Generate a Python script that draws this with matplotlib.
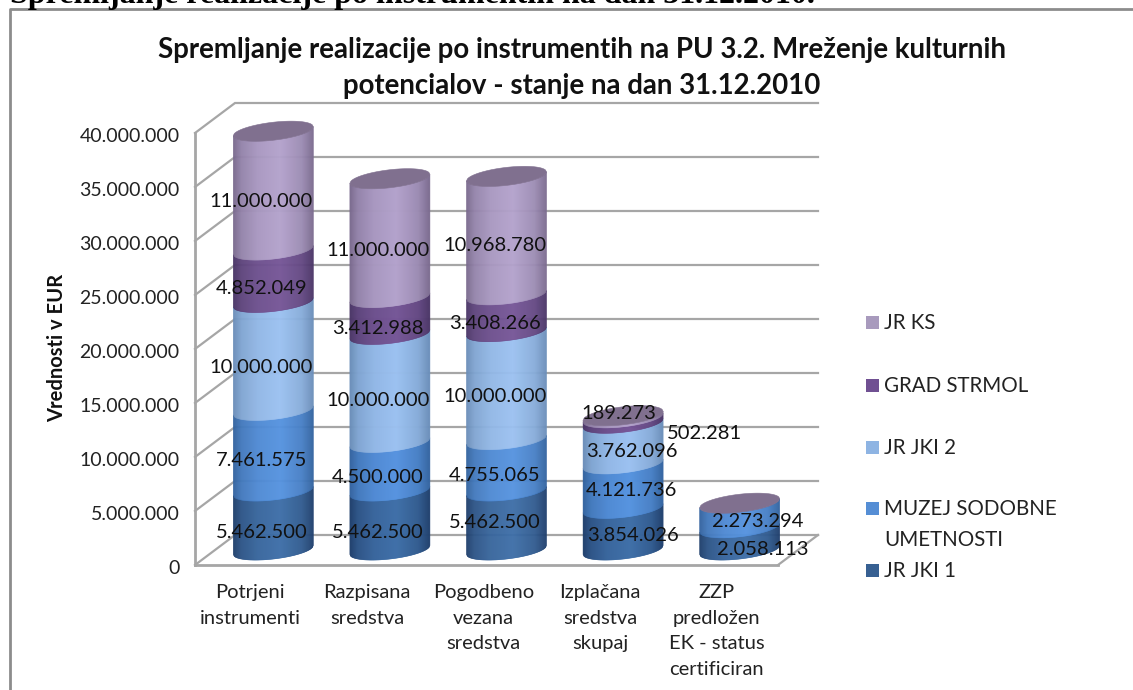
import matplotlib
matplotlib.use('Agg')
import matplotlib.pyplot as plt
import numpy as np
from matplotlib.collections import PolyCollection
from matplotlib.colors import to_rgb
from matplotlib.patches import Rectangle
from matplotlib.transforms import ScaledTranslation

# --- Data ---
categories = ['Potrjeni\ninstrumenti', 'Razpisana\nsredstva', 'Pogodbeno\nvezana\nsredstva',
              'Izplačana\nsredstva\nskupaj', 'ZZP\npredložen\nEK - status\ncertificiran']
jr_jki_1 = [5462500, 5462500, 5462500, 3854026, 2058113]
muzej = [7461575, 4500000, 4755065, 4121736, 2273294]
jr_jki_2 = [10000000, 10000000, 10000000, 3762096, 0]
grad_strmol = [4852049, 3412988, 3408266, 502281, 0]
jr_ks = [11000000, 11000000, 10968780, 189273, 0]
series = [jr_jki_1, muzej, jr_jki_2, grad_strmol, jr_ks]
series_names = ['JR JKI 1', 'MUZEJ SODOBNE\nUMETNOSTI', 'JR JKI 2', 'GRAD STRMOL', 'JR KS']
y_ticks = [0, 5000000, 10000000, 15000000, 20000000, 25000000, 30000000, 35000000, 40000000]

# (center colour, edge colour, legend colour) per series
colors = [('#3d6ea8', '#1f3f6c', '#376092'),
          ('#5593e0', '#33639f', '#558ed5'),
          ('#9bc1f1', '#6a8db8', '#8eb4e3'),
          ('#755597', '#4a3566', '#705092'),
          ('#b3a2cc', '#7a6a8e', '#a89abd')]
cap_color = '#80708f'
wall_color = '#a6a6a6'

# Manual label shifts in pixels, per series then category (Excel labels were dragged around)
label_shift = [[(8, 3), (8, 3), (8.5, 13), (30, 8.5), (43, 4.5)],
               [(8, 5.5), (8, 4.2), (8.5, 4.5), (28, 10.5), (38, 9)],
               [(8, 3.5), (8, 3), (8.5, 4.5), (29, 7.5), (0, 0)],
               [(8, 2.5), (8, 2.5), (8.5, 4.5), (101, 2), (0, 0)],
               [(8, 4), (8, 2.5), (8.5, 5), (16, 18.5), (0, 0)]]

W, H = 1133, 690
plt.rcParams['font.family'] = ['Lato', 'DejaVu Sans']
fig = plt.figure(figsize=(W / 100, H / 100), dpi=100)
ax = fig.add_axes([195 / W, (H - 565) / H, 583 / W, 432 / H])
ax.set_xlim(0, 5)
ax.set_ylim(0, 40000000)

# pseudo 3D geometry, pixels converted to data units
px_x = 5 / 583
px_y = 40000000 / 432
depth_x = 40 * px_x
depth_y = 30 * px_y

# walls and floor
for v in y_ticks:
    ax.plot([0, depth_x, 5 + depth_x], [v, v + depth_y, v + depth_y], color=wall_color,
            lw=1.6, clip_on=False, zorder=1, solid_joinstyle='miter')
ax.plot([5, 5 + depth_x], [0, depth_y], color=wall_color, lw=1.6, clip_on=False, zorder=1)
ax.plot([0, 5], [0, 0], color=wall_color, lw=2, clip_on=False, zorder=1)
ax.plot([0, 0], [0, 40000000], color=wall_color, lw=2, clip_on=False, zorder=1)

# cylinders
half_w = 40 * px_x
tt = np.linspace(0, 1, 81)
uu = 2 * tt - 1
shade = np.interp(tt, [0, 0.1, 0.3, 0.58, 0.85, 1], [0, 0.45, 0.8, 1, 0.6, 0])


def ellipse_edge(v, side):
    # side=-1 lower half, side=1 upper half of the tilted ellipse at stack height v
    return v + depth_y / 2 + (side * 9 * np.sqrt(1 - uu ** 2) + 4.5 * uu) * px_y


for i in range(len(categories)):
    cx = i + 0.5 + depth_x / 2
    xs = cx - half_w + 2 * half_w * tt
    base = 0
    for s, vals in enumerate(series):
        v = vals[i]
        if v == 0:
            continue
        low = ellipse_edge(base, -1)
        high = ellipse_edge(base + v, -1)
        quads = []
        cols = []
        for k in range(len(tt) - 1):
            quads.append([(xs[k], low[k]), (xs[k + 1], low[k + 1]), (xs[k + 1], high[k + 1]), (xs[k], high[k])])
            c0 = np.array(to_rgb(colors[s][1]))
            c1 = np.array(to_rgb(colors[s][0]))
            cols.append(c0 + (c1 - c0) * shade[k])
        pc = PolyCollection(quads, facecolors=cols, edgecolors=cols, linewidths=0.4, zorder=3 + i, clip_on=False)
        ax.add_collection(pc)
        base += v
    # the cap
    ax.fill(np.r_[xs, xs[::-1]], np.r_[ellipse_edge(base, -1), ellipse_edge(base, 1)[::-1]],
            color=cap_color, lw=0.4, zorder=3 + i, clip_on=False)

# data labels
for i in range(len(categories)):
    base = 0
    for s, vals in enumerate(series):
        v = vals[i]
        if v == 0:
            continue
        ax.annotate(f'{v:,}'.replace(',', '.'), xy=(i + 0.5, base + v / 2),
                    xytext=label_shift[s][i], textcoords='offset pixels', ha='center', va='center',
                    fontsize=14.5, color='#111111', zorder=20, annotation_clip=False)
        base += v

# axes
for sp in ax.spines.values():
    sp.set_visible(False)
ax.patch.set_visible(False)
ax.set_yticks(y_ticks)
ax.set_yticklabels([f'{v:,}'.replace(',', '.') for v in y_ticks], fontsize=14, color='#222222')
ax.tick_params(axis='y', length=0, pad=11)
for lab in ax.get_yticklabels():
    lab.set_transform(lab.get_transform() + ScaledTranslation(0, -2.5 / 100, fig.dpi_scale_trans))
ax.set_xticks(np.arange(len(categories)) + 0.5 - 3 * px_x)
ax.set_xticklabels(categories, fontsize=14.5, color='#222222', linespacing=1.6)
ax.tick_params(axis='x', length=0, pad=14)

fig.text(57 / W, 1 - 348 / H, 'Vrednosti v EUR', rotation=90, ha='center', va='center',
         fontsize=14.5, fontweight='bold', color='#111111')

# title
fig.text(582 / W, 1 - 68 / H, 'Spremljanje realizacije po instrumentih na PU 3.2. Mreženje kulturnih\n'
         'potencialov - stanje na dan 31.12.2010', ha='center', va='center', fontsize=19.9,
         fontweight='bold', color='#111111', linespacing=1.48)

# legend, rows keep an even pitch even when a label wraps
legend_rows = [570, 508, 447, 385, 322]
for s, name in enumerate(series_names):
    y = legend_rows[s]
    fig.add_artist(Rectangle((866 / W, 1 - (y + 7) / H), 13 / W, 13 / H, transform=fig.transFigure,
                             facecolor=colors[s][2], edgecolor='none'))
    fig.text(884 / W, 1 - (y - 9) / H, name, ha='left', va='top', fontsize=14.8, color='#222222', linespacing=1.7)

# chart frame and the clipped document heading above it
fig.add_artist(plt.Line2D([10 / W, 10 / W, 1], [0, 1 - 9 / H, 1 - 9 / H], transform=fig.transFigure,
                          color='#8c8c8c', lw=2))
fig.text(10 / W, 1 - 3.5 / H, 'Spremljanje realizacije po instrumentih na dan 31.12.2010.', ha='left',
         va='baseline', fontsize=23, fontweight='bold', family='Liberation Serif', color='black')

fig.savefig('out.png', dpi=100)
